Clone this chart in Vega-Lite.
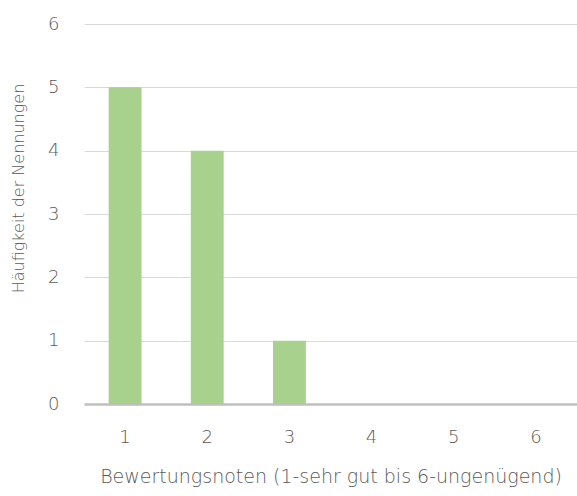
{
  "$schema": "https://vega.github.io/schema/vega-lite/v6.json",
  "width": 493,
  "height": 380,
  "autosize": "none",
  "padding": {"left": 84, "top": 24, "right": 0, "bottom": 92},
  "background": "white",
  "config": {"view": {"stroke": null}, "font": "DejaVu Sans"},
  "data": {"values": [
    {"note": "1", "count": 5},
    {"note": "2", "count": 4},
    {"note": "3", "count": 1},
    {"note": "4", "count": 0},
    {"note": "5", "count": 0},
    {"note": "6", "count": 0}
  ]},
  "mark": {"type": "bar", "color": "#a9d18e"},
  "encoding": {
    "x": {
      "field": "note", "type": "ordinal",
      "scale": {"paddingInner": 0.6, "paddingOuter": 0.3},
      "axis": {
        "title": "Bewertungsnoten (1-sehr gut bis 6-ungenügend)",
        "labelAngle": 0, "ticks": false,
        "domainColor": "#bfbfbf", "domainWidth": 2.5,
        "labelFont": "DejaVu Sans", "labelFontWeight": 200, "labelFontSize": 18, "labelColor": "#595959", "labelPadding": 24,
        "titleFont": "DejaVu Sans", "titleFontWeight": 200, "titleFontSize": 19, "titleColor": "#595959", "titlePadding": 21
      }
    },
    "y": {
      "field": "count", "type": "quantitative",
      "scale": {"domain": [0, 6]},
      "axis": {
        "title": "Häufigkeit der Nennungen",
        "values": [0,1,2,3,4,5,6], "labelOverlap": false,
        "domain": false, "ticks": false,
        "gridColor": "#d9d9d9", "gridWidth": 1,
        "labelFont": "DejaVu Sans", "labelFontWeight": 200, "labelFontSize": 18, "labelColor": "#595959", "labelPadding": 25,
        "titleFont": "DejaVu Sans", "titleFontWeight": 200, "titleFontSize": 16, "titleColor": "#595959", "titlePadding": 21,
        "titleY": 164
      }
    }
  }
}
